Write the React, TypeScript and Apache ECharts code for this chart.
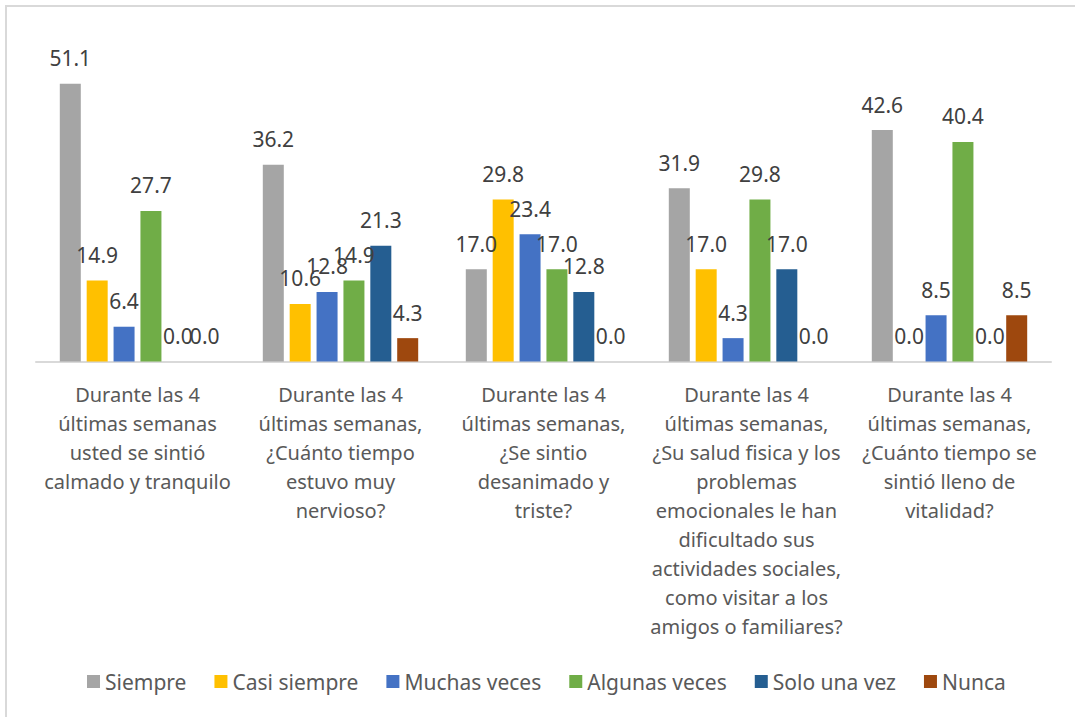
import React, { useEffect, useRef } from "react";
import * as echarts from "echarts";

const categories = [
  "Durante las 4\núltimas semanas\nusted se sintió\ncalmado y tranquilo",
  "Durante las 4\núltimas semanas,\n¿Cuánto tiempo\nestuvo muy\nnervioso?",
  "Durante las 4\núltimas semanas,\n¿Se sintio\ndesanimado y\ntriste?",
  "Durante las 4\núltimas semanas,\n¿Su salud fisica y los\nproblemas\nemocionales le han\ndificultado sus\nactividades sociales,\ncomo visitar a los\namigos o familiares?",
  "Durante las 4\núltimas semanas,\n¿Cuánto tiempo se\nsintió lleno de\nvitalidad?",
];

const seriesNames = ["Siempre", "Casi siempre", "Muchas veces", "Algunas veces", "Solo una vez", "Nunca"];
const siempre = [51.1, 36.2, 17.0, 31.9, 42.6];
const casiSiempre = [14.9, 10.6, 29.8, 17.0, 0.0];
const muchasVeces = [6.4, 12.8, 23.4, 4.3, 8.5];
const algunasVeces = [27.7, 14.9, 17.0, 29.8, 40.4];
const soloUnaVez = [0.0, 21.3, 12.8, 17.0, 0.0];
const nunca = [0.0, 4.3, 0.0, 0.0, 8.5];
const seriesValues = [siempre, casiSiempre, muchasVeces, algunasVeces, soloUnaVez, nunca];
const colors = ["#A5A5A5", "#FFC000", "#4472C4", "#70AD47", "#255E91", "#9E480E"];

const FONT = "'Noto Sans', 'Open Sans', sans-serif";

export default function App() {
  const ref = useRef<HTMLDivElement>(null);
  useEffect(() => {
    if (!ref.current) return;
    const chart = echarts.init(ref.current, undefined, { renderer: "svg" });
    chart.setOption({
      animation: false,
      backgroundColor: "#ffffff",
      textStyle: { fontFamily: FONT },
      graphic: [
        {
          type: "rect",
          shape: { x: 6, y: 6, width: 1100, height: 740 },
          style: { fill: "none", stroke: "#D9D9D9", lineWidth: 2 },
          silent: true,
          z: -1,
        },
      ],
      grid: { left: 36, right: 24, top: 35.5, bottom: 355.5, containLabel: false },
      legend: {
        data: seriesNames,
        left: 82,
        top: 666,
        itemWidth: 13,
        itemHeight: 13,
        itemGap: 28,
        icon: "rect",
        textStyle: { fontSize: 21, color: "#595959", fontFamily: FONT },
      },
      xAxis: {
        type: "category",
        data: categories,
        axisLine: { lineStyle: { color: "#D9D9D9", width: 2 } },
        axisTick: { show: false },
        axisLabel: {
          interval: 0,
          margin: 18,
          fontSize: 20,
          lineHeight: 29,
          color: "#595959",
          fontFamily: FONT,
          align: "center",
        },
      },
      yAxis: {
        type: "value",
        min: 0,
        max: 60,
        show: false,
        splitLine: { show: false },
      },
      series: seriesNames.map((name, i) => ({
        name,
        type: "bar",
        data: seriesValues[i],
        barWidth: 21,
        barGap: "28%",
        itemStyle: { color: colors[i] },
        label: {
          show: true,
          position: "top",
          distance: 15,
          fontSize: 21,
          color: "#404040",
          fontFamily: FONT,
          formatter: (p: any) => Number(p.value).toFixed(1),
        },
      })),
    });
    return () => chart.dispose();
  }, []);
  return (
    <div
      ref={ref}
      style={{ position: "fixed", left: 0, top: 0, width: 1075, height: 717 }}
    />
  );
}
